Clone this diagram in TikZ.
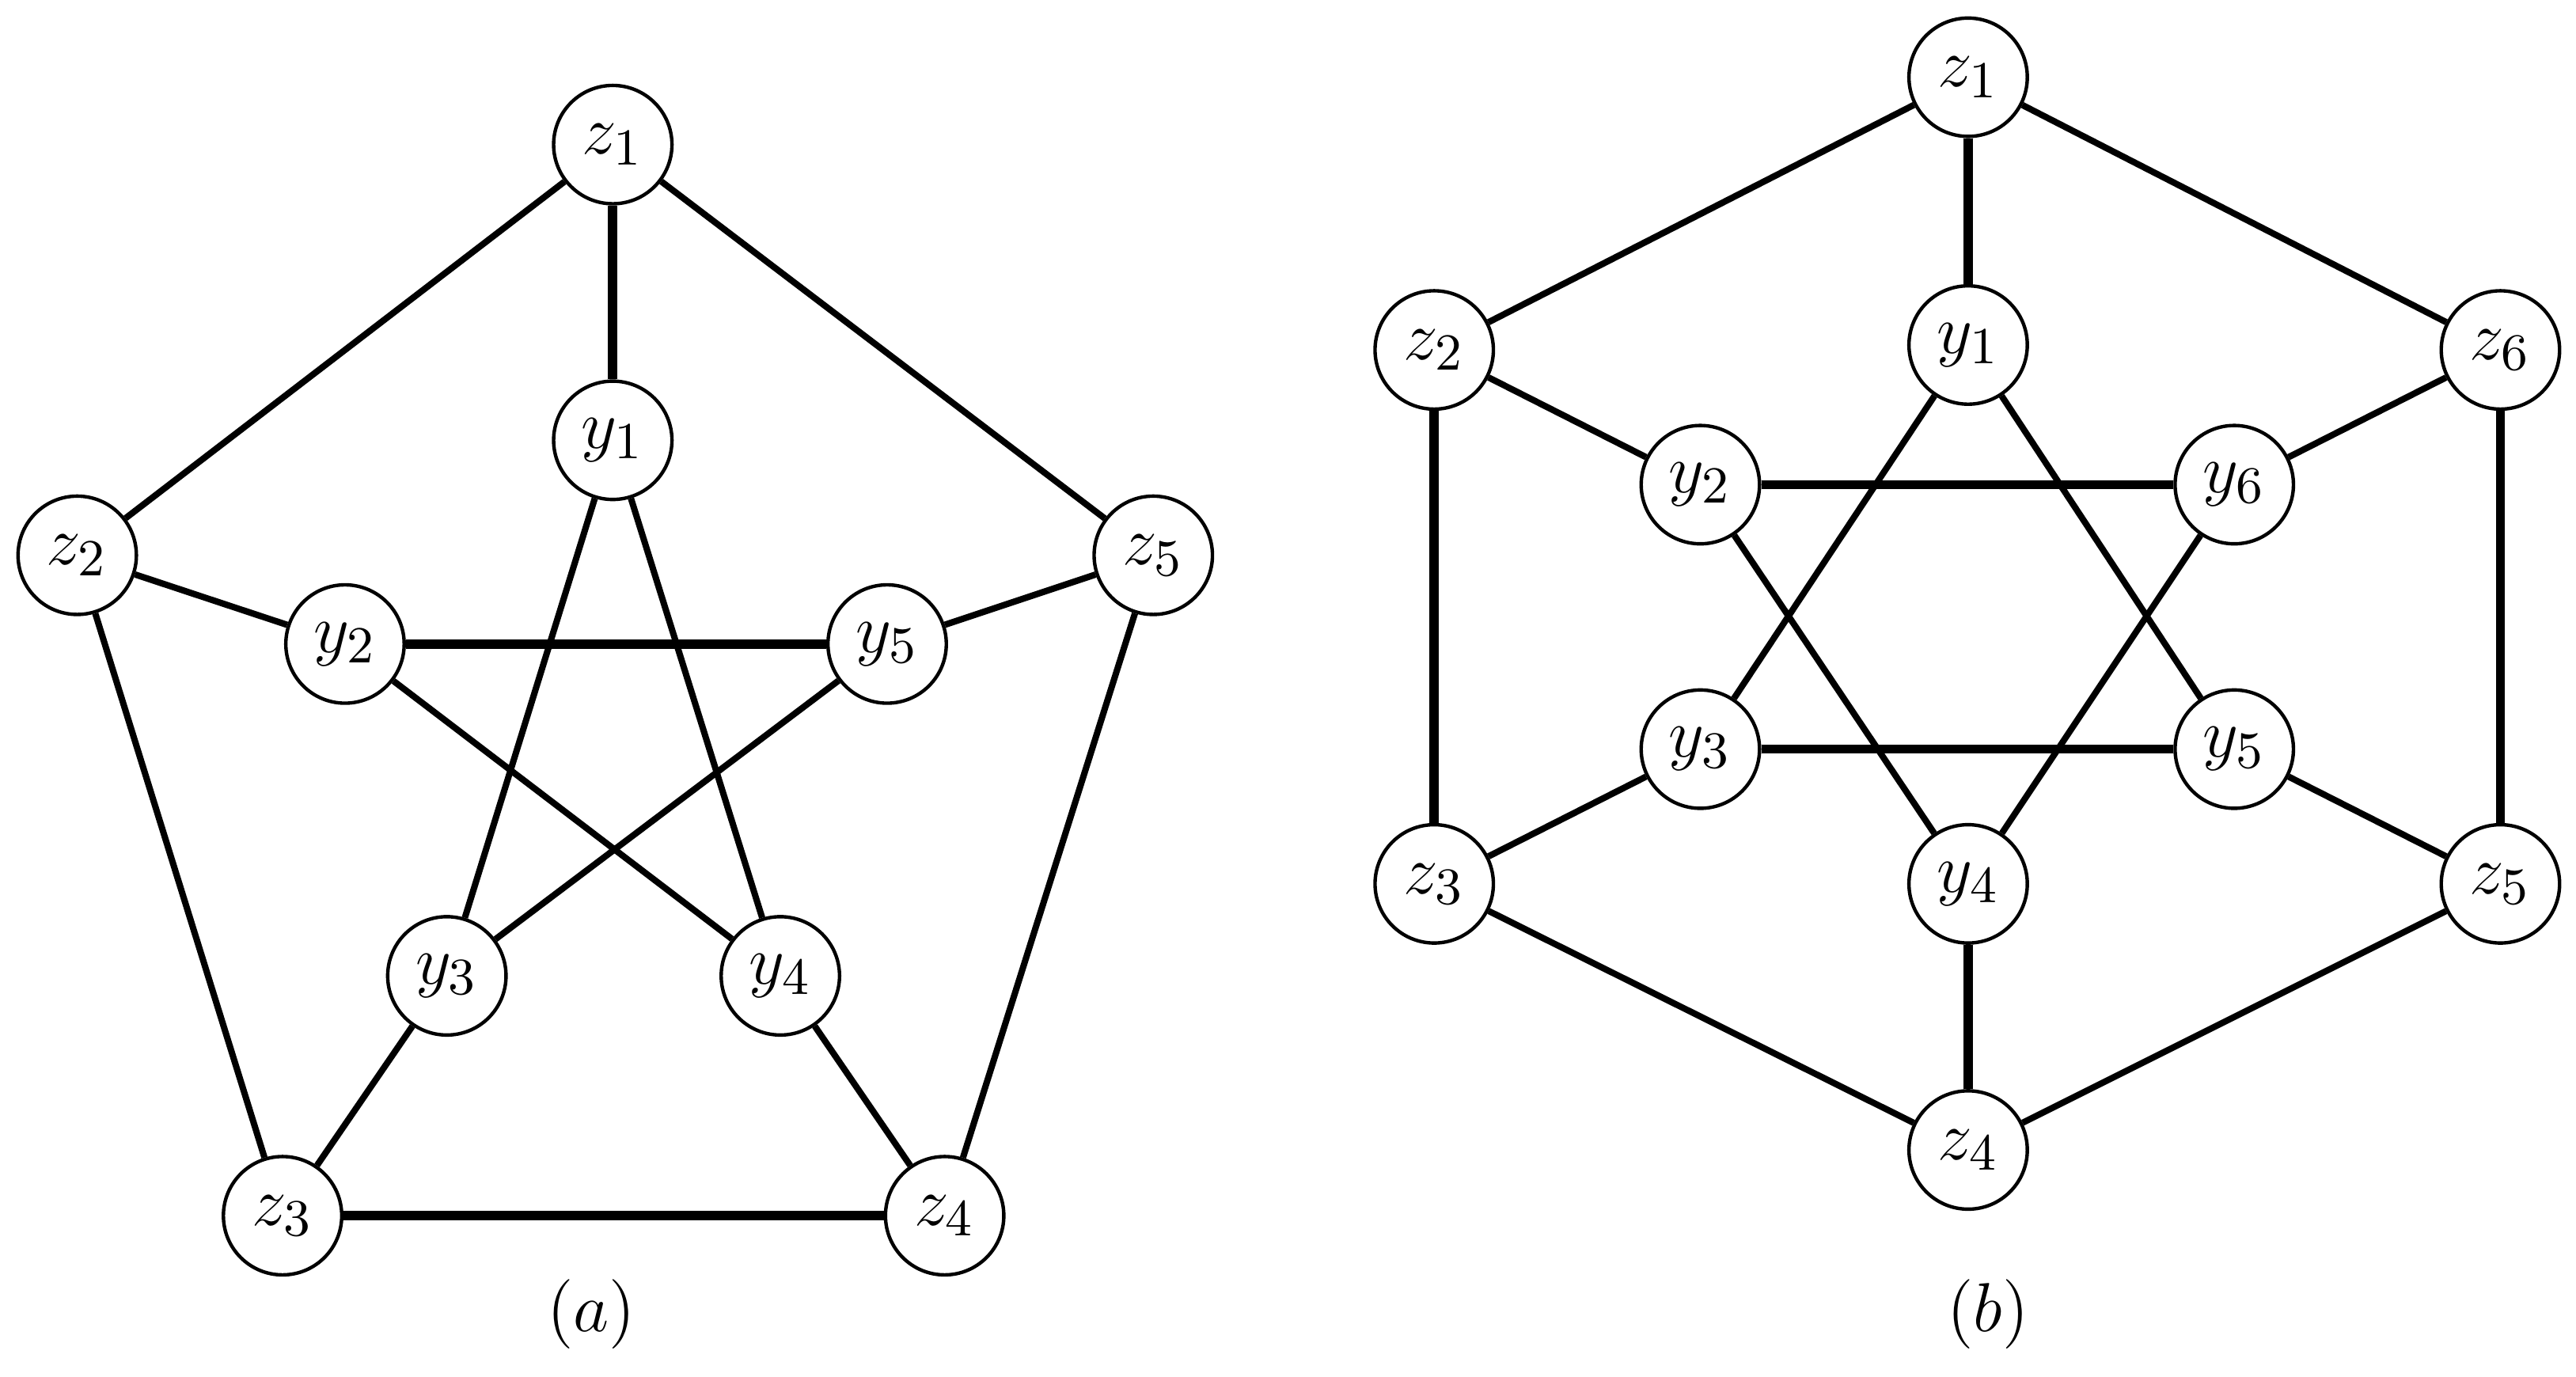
\documentclass[tikz,border=0pt]{standalone}
\begin{document}
\begin{tikzpicture}[x=0.01cm,y=-0.01cm,
  v/.style={circle,draw,line width=0.6pt,minimum size=0.72cm,inner sep=0pt,font=\fontsize{13}{15}\selectfont,fill=white},
  e/.style={line width=1.1pt},
  te/.style={line width=1.6pt}]
\useasboundingbox (0,0) rectangle (1568,838);
% (a)
\node[v] (az1) at (373,88) {$z_1$};
\node[v] (ay1) at (373,268) {$y_1$};
\node[v] (az2) at (47,338) {$z_2$};
\node[v] (az5) at (702,338) {$z_5$};
\node[v] (ay2) at (210,392) {$y_2$};
\node[v] (ay5) at (540,392) {$y_5$};
\node[v] (ay3) at (272,594) {$y_3$};
\node[v] (ay4) at (475,594) {$y_4$};
\node[v] (az3) at (172,740) {$z_3$};
\node[v] (az4) at (575,740) {$z_4$};
\draw[e] (az1)--(az2) (az1)--(az5) (az2)--(az3) (az5)--(az4);
\draw[te] (az3)--(az4) (az1)--(ay1) (ay2)--(ay5);
\draw[e] (az2)--(ay2) (az5)--(ay5) (az3)--(ay3) (az4)--(ay4);
\draw[e] (ay1)--(ay3) (ay1)--(ay4) (ay2)--(ay4) (ay5)--(ay3);
\node[font=\fontsize{13}{15}\selectfont] (la) at (360,800) {$(a)$};
% (b)
\node[v] (bz1) at (1198,47) {$z_1$};
\node[v] (by1) at (1198,210) {$y_1$};
\node[v] (bz2) at (873,213) {$z_2$};
\node[v] (bz6) at (1522,213) {$z_6$};
\node[v] (by2) at (1035,295) {$y_2$};
\node[v] (by6) at (1360,295) {$y_6$};
\node[v] (by3) at (1035,456) {$y_3$};
\node[v] (by5) at (1360,456) {$y_5$};
\node[v] (bz3) at (873,538) {$z_3$};
\node[v] (bz5) at (1522,538) {$z_5$};
\node[v] (by4) at (1198,538) {$y_4$};
\node[v] (bz4) at (1198,700) {$z_4$};
\draw[e] (bz1)--(bz2) (bz1)--(bz6) (bz3)--(bz4) (bz5)--(bz4);
\draw[te] (bz2)--(bz3) (bz6)--(bz5) (bz1)--(by1) (bz4)--(by4) (by2)--(by6) (by3)--(by5);
\draw[e] (bz2)--(by2) (bz6)--(by6) (bz3)--(by3) (bz5)--(by5);
\draw[e] (by1)--(by3) (by5)--(by1) (by6)--(by4) (by4)--(by2);
\node[font=\fontsize{13}{15}\selectfont] (lb) at (1210,800) {$(b)$};
\end{tikzpicture}
\end{document}
